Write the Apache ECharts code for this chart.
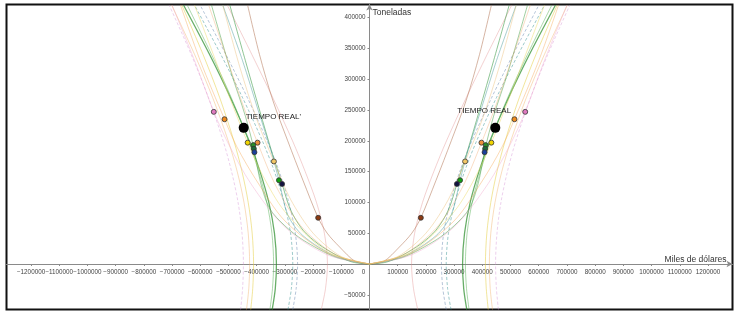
<!DOCTYPE html>
<html>
<head>
<meta charset="utf-8">
<script src="https://cdn.jsdelivr.net/npm/echarts@6/dist/echarts.min.js"></script>
<style>
html, body { margin: 0; padding: 0; background: #fff; }
#chart { width: 737px; height: 312px; }
</style>
</head>
<body>
<div id="chart"></div>
<script>
/* tick labels */
var xTicks = [-1200000, -1100000, -1000000, -900000, -800000, -700000, -600000, -500000, -400000, -300000, -200000, -100000, 0,
	100000, 200000, 300000, 400000, 500000, 600000, 700000, 800000, 900000, 1000000, 1100000, 1200000];
var yTicks = [-50000, 50000, 100000, 150000, 200000, 250000, 300000, 350000, 400000];

/* curves of the right half (left half is the mirror image) */
var hPink = [[171000, -74000], [156000, -40000], [149000, 0], [160000, 50000], [188000, 100000], [228000, 150000], [273000, 200000], [343000, 270000], [417000, 340000], [504000, 420000]];
var hBlueGrey = [[272000, -74000], [260000, -40000], [255000, 0], [263000, 50000], [286000, 100000], [320000, 150000], [363000, 200000], [433000, 270000], [509000, 340000], [600000, 420000]];
var hTeal = [[289000, -74000], [277000, -40000], [272000, 0], [280000, 50000], [303000, 100000], [337000, 150000], [380000, 200000], [450000, 270000], [527000, 340000], [620000, 420000]];
var hGreen = [[345000, -74000], [334000, -40000], [330000, 0], [337000, 50000], [357000, 100000], [388000, 150000], [427000, 200000], [493000, 270000], [567000, 340000], [659000, 420000]];
var hGreen2 = [[353000, -74000], [344000, -40000], [340000, 0], [346000, 50000], [364000, 100000], [393000, 150000], [429000, 200000], [490000, 270000], [560000, 340000], [646000, 420000]];
var hYellow = [[421000, -74000], [414000, -40000], [411000, 0], [416000, 50000], [430000, 100000], [452000, 150000], [481000, 200000], [531000, 270000], [590000, 340000], [665000, 420000]];
var hOrange = [[436000, -74000], [428000, -40000], [425000, 0], [430000, 50000], [445000, 100000], [469000, 150000], [501000, 200000], [556000, 270000], [620000, 340000], [701000, 420000]];
var hLavender = [[457000, -74000], [450000, -40000], [447000, 0], [452000, 50000], [466000, 100000], [489000, 150000], [519000, 200000], [571000, 270000], [632000, 340000], [710000, 420000]];

var oBrown = [[0, 0], [50000, 4000], [106000, 27600], [150000, 50000], [182000, 75000], [236000, 136000], [290000, 200000], [343000, 266000], [390000, 340000], [432000, 420000]];
var oGreen1 = [[0, 0], [60000, 3000], [118000, 14600], [180000, 32000], [236000, 55000], [280000, 88000], [310000, 130000], [345000, 180000], [390000, 250000], [440000, 330000], [495000, 420000]];
var oGreen2 = [[0, 0], [118000, 10800], [236000, 39000], [300000, 62000], [354000, 90000], [385000, 130000], [410000, 187000], [440000, 240000], [490000, 310000], [560000, 420000]];
var oTeal = [[0, 0], [118000, 12000], [236000, 46000], [290000, 80000], [321000, 136000], [350000, 185000], [395000, 250000], [450000, 330000], [520000, 420000]];
var oPink = [[0, 0], [150000, 15000], [300000, 60000], [420000, 130000], [500000, 195000], [552000, 247000], [620000, 330000], [700000, 420000]];
var oOrange = [[0, 0], [150000, 18000], [300000, 70000], [400000, 135000], [470000, 190000], [514000, 235000], [600000, 330000], [670000, 420000]];
var oTan = [[0, 0], [100000, 12000], [200000, 50000], [280000, 105000], [339000, 166500], [400000, 235000], [460000, 320000], [520000, 420000]];
var oYellow = [[0, 0], [150000, 20000], [300000, 85000], [380000, 145000], [432000, 197000], [500000, 275000], [570000, 360000], [620000, 420000]];
var oOrange2 = [[0, 0], [120000, 15000], [240000, 60000], [330000, 125000], [397000, 197000], [450000, 260000], [510000, 340000], [570000, 420000]];

/* points of the right half */
var pPink = [552000, 247000];
var pOrange = [514000, 235000];
var pReal = [446000, 221000];
var pYellow = [432000, 197000];
var pOrange2 = [397000, 197000];
var pGreen = [412000, 193000];
var pDarkGreen = [410000, 187000];
var pBlue = [408000, 181500];
var pTan = [339000, 166500];
var pGreen3 = [321000, 136000];
var pNavy = [310000, 130000];
var pBrown = [182000, 75000];

function mirror(pts) {
	return pts.map(function(p) {
		return [-p[0], p[1]];
	});
}

var curveStyles = [
	[hPink, 'rgba(225,140,140,0.4)', 1, 'solid'],
	[hBlueGrey, 'rgba(110,140,180,0.5)', 1, [3, 2]],
	[hTeal, 'rgba(60,150,150,0.5)', 1, [3, 2]],
	[hGreen, 'rgba(40,140,40,0.7)', 1.3, 'solid'],
	[hGreen2, 'rgba(90,180,90,0.5)', 1, 'solid'],
	[hYellow, 'rgba(230,205,60,0.5)', 1, 'solid'],
	[hOrange, 'rgba(240,170,90,0.4)', 1, 'solid'],
	[hLavender, 'rgba(215,150,215,0.45)', 1, [3, 2]],
	[oBrown, 'rgba(180,120,90,0.55)', 1, 'solid'],
	[oGreen1, 'rgba(50,150,60,0.55)', 1, 'solid'],
	[oGreen2, 'rgba(70,160,70,0.5)', 1, 'solid'],
	[oTeal, 'rgba(80,160,160,0.5)', 1, 'solid'],
	[oPink, 'rgba(240,160,200,0.4)', 1, 'solid'],
	[oOrange, 'rgba(245,160,70,0.4)', 1, 'solid'],
	[oTan, 'rgba(235,190,120,0.45)', 1, 'solid'],
	[oYellow, 'rgba(235,215,90,0.45)', 1, 'solid'],
	[oOrange2, 'rgba(240,170,110,0.4)', 1, 'solid']
];

var dotStyles = [
	[pPink, '#e07ac0', 5],
	[pOrange, '#f08c1e', 5],
	[pYellow, '#f0d400', 5],
	[pOrange2, '#eb8f3a', 5],
	[pGreen, '#2a8f2a', 5],
	[pDarkGreen, '#1b6b3a', 5],
	[pBlue, '#1b3f9a', 5],
	[pTan, '#f2c766', 5],
	[pGreen3, '#12a012', 5],
	[pNavy, '#121240', 5],
	[pBrown, '#8b3a12', 5]
];

var series = [];
curveStyles.forEach(function(c) {
	[c[0], mirror(c[0])].forEach(function(d) {
		series.push({
			type: 'line',
			data: d,
			smooth: 0.3,
			showSymbol: false,
			silent: true,
			z: 2,
			lineStyle: { color: c[1], width: c[2], type: c[3] }
		});
	});
});
dotStyles.forEach(function(s) {
	series.push({
		type: 'scatter',
		data: [s[0], mirror([s[0]])[0]],
		symbolSize: s[2],
		silent: true,
		z: 5,
		itemStyle: { color: s[1], borderColor: '#333', borderWidth: 0.8, opacity: 1 }
	});
});
/* punto TIEMPO REAL */
series.push({
	type: 'scatter',
	symbolSize: 10,
	silent: true,
	z: 6,
	itemStyle: { color: '#000', opacity: 1 },
	label: { show: true, fontFamily: 'Liberation Sans', fontSize: 8, color: '#222' },
	data: [
		{ value: pReal, label: { formatter: 'TIEMPO REAL', position: [-33, -16] } },
		{ value: mirror([pReal])[0], label: { formatter: "TIEMPO REAL'", position: [7, -10] } }
	]
});

var myChart = echarts.init(document.getElementById('chart'));
var option = {
	animation: false,
	grid: {
		show: true,
		left: 6.5,
		right: 4.5,
		top: 4.5,
		bottom: 2.5,
		containLabel: false,
		outerBoundsMode: 'none',
		borderColor: '#111',
		borderWidth: 2
	},
	xAxis: {
		type: 'value',
		min: -1287000,
		max: 1287000,
		position: 'bottom',
		offset: -45.5,
		name: 'Miles de dólares',
		nameLocation: 'end',
		nameGap: -6,
		nameTextStyle: { fontFamily: 'Liberation Sans', fontSize: 8.5, color: '#333', align: 'right', verticalAlign: 'bottom', padding: [0, 0, 0, 0] },
		splitLine: { show: false },
		axisLine: { onZero: false, symbol: ['none', 'arrow'], symbolSize: [5, 6], lineStyle: { color: '#8a8a8a', width: 1 } },
		axisTick: { show: true, length: 2, customValues: xTicks, lineStyle: { color: '#8a8a8a' } },
		axisLabel: {
			customValues: xTicks,
			margin: 5,
			fontFamily: 'Liberation Sans',
			fontSize: 6.3,
			color: '#444',
			formatter: function(v) {
				if (v === 0) return '{z|0}';
				return v < 0 ? '\u2212' + (-v) : String(v);
			},
			rich: { z: { fontSize: 6.3, color: '#444', padding: [0, 12, 0, 0] } }
		}
	},
	yAxis: {
		type: 'value',
		min: -73900,
		max: 421300,
		position: 'left',
		offset: -363,
		name: 'Toneladas',
		nameLocation: 'end',
		nameGap: -8,
		nameTextStyle: { fontFamily: 'Liberation Sans', fontSize: 8.5, color: '#333', align: 'left', verticalAlign: 'middle', padding: [0, 0, 0, 3] },
		splitLine: { show: false },
		axisLine: { onZero: false, symbol: ['none', 'arrow'], symbolSize: [5, 6], lineStyle: { color: '#8a8a8a', width: 1 } },
		axisTick: { show: true, length: 2, customValues: yTicks, lineStyle: { color: '#8a8a8a' } },
		axisLabel: {
			customValues: yTicks,
			margin: 4,
			fontFamily: 'Liberation Sans',
			fontSize: 6.3,
			color: '#444',
			formatter: function(v) {
				return v < 0 ? '\u2212' + (-v) : String(v);
			}
		}
	},
	series: series
};
myChart.setOption(option);
</script>
</body>
</html>
